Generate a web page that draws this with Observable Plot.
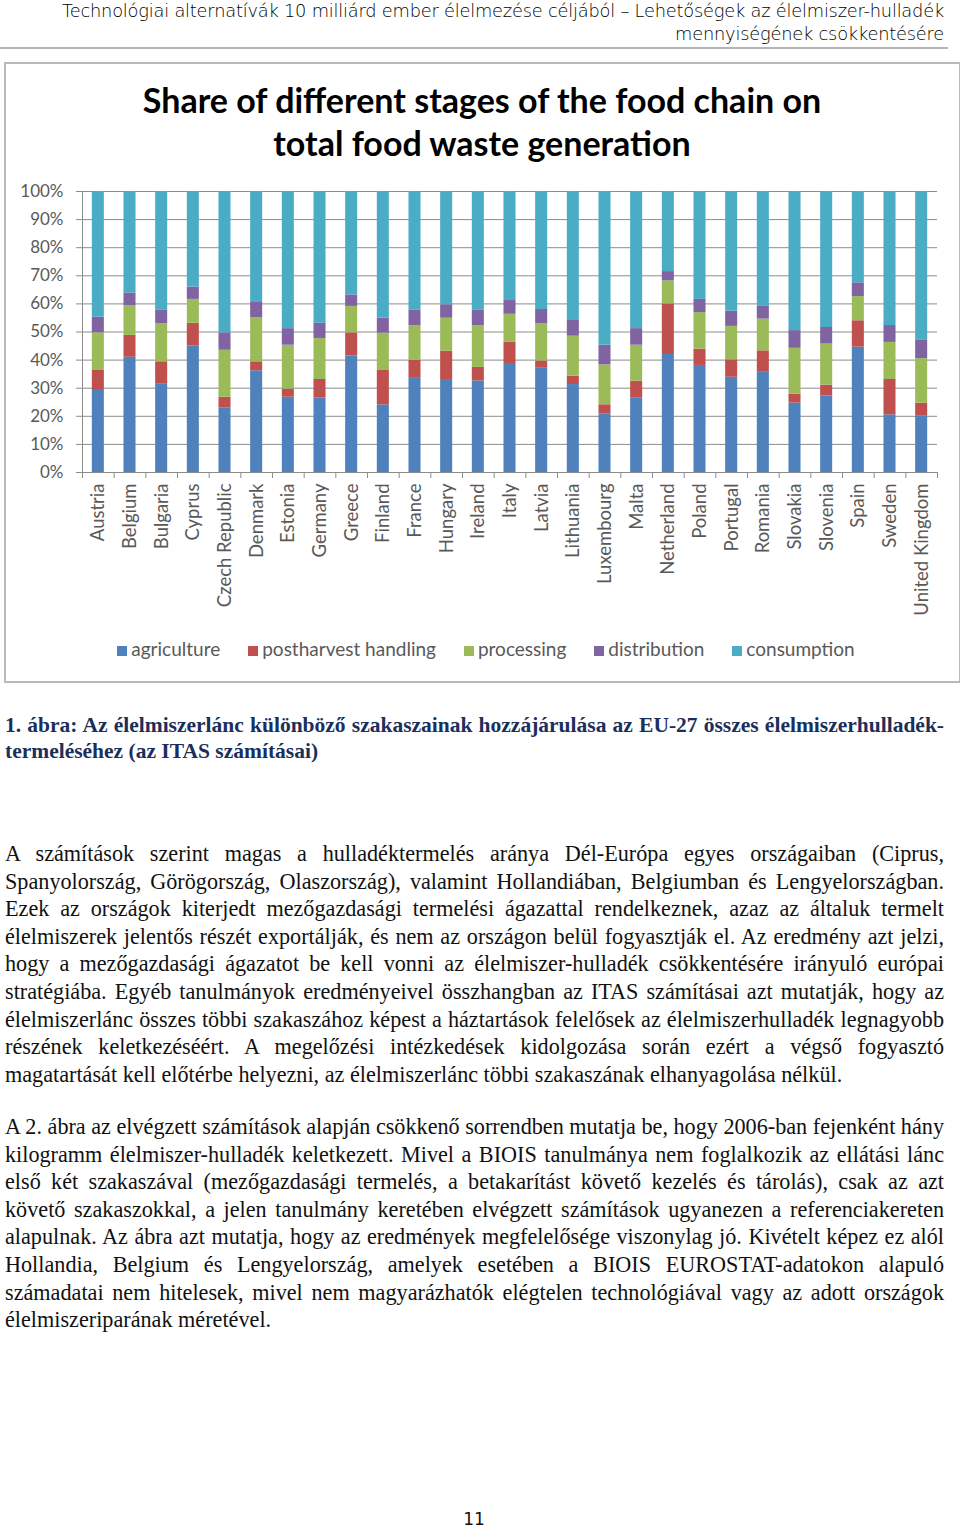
<!DOCTYPE html>
<html>
<head>
<meta charset="utf-8">
<script src="https://cdn.jsdelivr.net/npm/d3@7"></script>
<script src="https://cdn.jsdelivr.net/npm/@observablehq/plot@0.6"></script>
<style>
  html, body { margin: 0; padding: 0; background: #fff; }
  body { width: 960px; height: 1531px; position: relative; overflow: hidden; }
  .hdr { position: absolute; right: 16px; font-family: "DejaVu Sans", sans-serif; font-size: 17.8px; color: #000; font-weight: 300; letter-spacing: -0.2px; }
  .hline { position: absolute; left: 0; top: 47px; width: 948px; height: 2px; background: #b5b5b5; }
  .frame { position: absolute; left: 4px; top: 62px; width: 953px; height: 617px; border: 2px solid #b9b9b9; }
  .title { position: absolute; left: 0; width: 964px; text-align: center; font-family: Lato, sans-serif; font-weight: bold; font-size: 34px; color: #000; }
  #chart { position: absolute; left: 0; top: 170px; }
  .legend { position: absolute; top: 637px; left: 0; width: 972px; display: flex; justify-content: center; gap: 28px; font-family: Lato, sans-serif; font-size: 19px; color: #595959; }
  .legend span.sw { display: inline-block; width: 10px; height: 10px; margin-right: 4px; vertical-align: 0px; }
  .cap { position: absolute; left: 5px; width: 939px; font-family: "Liberation Serif", serif; font-weight: bold; font-size: 21.5px; color: #1b2f5c; line-height: 26px; }
  .txt { position: absolute; left: 5px; width: 939px; font-family: "Liberation Serif", serif; font-size: 22.2px; color: #111; line-height: 27.6px; }
  .j { text-align: justify; text-align-last: justify; height: 27.6px; }
  .cap .j { height: 26px; }
  .l { text-align: left; height: 27.6px; }
  .pg { position: absolute; top: 1509px; left: 0; width: 948px; text-align: center; font-family: "DejaVu Sans", sans-serif; font-size: 17px; color: #111; }
</style>
</head>
<body>
<div class="hdr" style="top:0px">Technológiai alternatívák 10 milliárd ember élelmezése céljából – Lehetőségek az élelmiszer-hulladék</div>
<div class="hdr" style="top:23px">mennyiségének csökkentésére</div>
<div class="hline"></div>
<div class="frame"></div>
<div class="title" style="top:79px">Share of different stages of the food chain on</div>
<div class="title" style="top:122px">total food waste generation</div>
<div id="chart"></div>
<div class="legend" id="legend"></div>

<div class="cap" style="top:712px">
  <div class="j">1. ábra: Az élelmiszerlánc különböző szakaszainak hozzájárulása az EU-27 összes élelmiszerhulladék-</div>
  <div>termeléséhez (az ITAS számításai)</div>
</div>

<div class="txt" style="top:840px">
  <div class="j">A számítások szerint magas a hulladéktermelés aránya Dél-Európa egyes országaiban (Ciprus,</div>
  <div class="j">Spanyolország, Görögország, Olaszország), valamint Hollandiában, Belgiumban és Lengyelországban.</div>
  <div class="j">Ezek az országok kiterjedt mezőgazdasági termelési ágazattal rendelkeznek, azaz az általuk termelt</div>
  <div class="j">élelmiszerek jelentős részét exportálják, és nem az országon belül fogyasztják el. Az eredmény azt jelzi,</div>
  <div class="j">hogy a mezőgazdasági ágazatot be kell vonni az élelmiszer-hulladék csökkentésére irányuló európai</div>
  <div class="j">stratégiába. Egyéb tanulmányok eredményeivel összhangban az ITAS számításai azt mutatják, hogy az</div>
  <div class="j">élelmiszerlánc összes többi szakaszához képest a háztartások felelősek az élelmiszerhulladék legnagyobb</div>
  <div class="j">részének keletkezéséért. A megelőzési intézkedések kidolgozása során ezért a végső fogyasztó</div>
  <div class="l">magatartását kell előtérbe helyezni, az élelmiszerlánc többi szakaszának elhanyagolása nélkül.</div>
</div>

<div class="txt" style="top:1113px">
  <div class="j">A 2. ábra az elvégzett számítások alapján csökkenő sorrendben mutatja be, hogy 2006-ban fejenként hány</div>
  <div class="j">kilogramm élelmiszer-hulladék keletkezett. Mivel a BIOIS tanulmánya nem foglalkozik az ellátási lánc</div>
  <div class="j">első két szakaszával (mezőgazdasági termelés, a betakarítást követő kezelés és tárolás), csak az azt</div>
  <div class="j">követő szakaszokkal, a jelen tanulmány keretében elvégzett számítások ugyanezen a referenciakereten</div>
  <div class="j">alapulnak. Az ábra azt mutatja, hogy az eredmények megfelelősége viszonylag jó. Kivételt képez ez alól</div>
  <div class="j">Hollandia, Belgium és Lengyelország, amelyek esetében a BIOIS EUROSTAT-adatokon alapuló</div>
  <div class="j">számadatai nem hitelesek, mivel nem magyarázhatók elégtelen technológiával vagy az adott országok</div>
  <div class="l">élelmiszeriparának méretével.</div>
</div>

<div class="pg">11</div>

<script>
const countries = ["Austria","Belgium","Bulgaria","Cyprus","Czech Republic","Denmark","Estonia","Germany","Greece","Finland","France","Hungary","Ireland","Italy","Latvia","Lithuania","Luxembourg","Malta","Netherland","Poland","Portugal","Romania","Slovakia","Slovenia","Spain","Sweden","United Kingdom"];
const stages = ["agriculture","postharvest handling","processing","distribution","consumption"];
const stageColors = ["#4f81bd","#c0504d","#9bbb59","#8064a2","#4bacc6"];

const agriculture  = [29.2,41.0,31.4,45.0,22.9,36.2,26.8,26.5,41.5,24.1,33.5,33.1,32.6,38.8,37.1,31.3,20.9,26.6,42.0,38.1,33.9,35.9,24.7,27.2,44.6,20.5,20.2];
const postharvest  = [7.1,7.8,8.0,8.1,3.9,3.2,2.9,6.6,8.2,12.2,6.4,10.1,4.8,7.5,2.6,3.0,3.2,5.9,18.0,5.8,6.2,7.4,3.2,3.9,9.4,12.6,4.5];
const processing   = [13.4,10.6,13.5,8.5,16.7,15.6,15.6,14.6,9.4,13.3,12.3,11.7,14.8,10.0,13.2,14.2,14.2,12.8,8.2,13.0,11.9,11.3,16.3,14.6,8.6,13.2,15.8];
const distribution = [5.6,4.5,4.8,4.4,6.2,5.5,5.9,5.4,4.1,5.3,5.5,4.8,5.5,4.9,5.1,5.6,7.0,5.9,3.3,4.7,5.4,4.5,6.3,5.9,4.9,6.0,6.5];
const consumption  = [44.7,36.1,42.3,34.0,50.3,39.5,48.8,46.9,36.8,45.1,42.3,40.3,42.3,38.8,42.0,45.9,54.7,48.8,28.5,38.4,42.6,40.9,49.5,48.4,32.5,47.7,53.0];
const yTicks = [0,10,20,30,40,50,60,70,80,90,100];

const series = [agriculture, postharvest, processing, distribution, consumption];
const rows = [];
stages.forEach((s, i) => countries.forEach((c, j) => rows.push({country: c, stage: s, value: series[i][j]})));

const W = 960, H = 460, mL = 82, mR = 23, mT = 21, mB = 158;
const step = (W - mL - mR) / countries.length;
const inset = step * 0.31;
const font = "Lato, sans-serif";

const chart = Plot.plot({
  width: W, height: H,
  marginLeft: mL, marginRight: mR, marginTop: mT, marginBottom: mB,
  style: {fontFamily: font, fontSize: "17px", color: "#595959", background: "transparent"},
  x: {domain: countries, padding: 0, round: false, label: null},
  y: {domain: [0, 100], label: null},
  color: {domain: stages, range: stageColors},
  marks: [
    Plot.gridY(yTicks, {stroke: "#8c8c8c", strokeOpacity: 1, strokeWidth: 1}),
    Plot.axisY(yTicks, {tickFormat: d => d + "%", tickSize: 6, tickPadding: 13, stroke: "#8c8c8c", fill: "#595959", fontSize: 17, label: null}),
    Plot.ruleX([countries[0]], {dx: -step / 2, stroke: "#8c8c8c"}),
    Plot.barY(rows, {x: "country", y: "value", fill: "stage", order: stages, insetLeft: inset, insetRight: inset}),
    Plot.ruleY([0], {stroke: "#8c8c8c"}),
    Plot.axisX(countries, {tickSize: 6, text: null, dx: -step / 2, stroke: "#8c8c8c", label: null}),
    Plot.axisX([countries[countries.length - 1]], {tickSize: 6, text: null, dx: step / 2, stroke: "#8c8c8c", label: null}),
    Plot.axisX(countries, {tickSize: 0, tickPadding: 11, tickRotate: -90, fill: "#595959", fontSize: 18.5, label: null})
  ]
});
document.getElementById("chart").appendChild(chart);

const leg = document.getElementById("legend");
stages.forEach((s, i) => {
  const item = document.createElement("div");
  item.innerHTML = `<span class="sw" style="background:${stageColors[i]}"></span>${s}`;
  leg.appendChild(item);
});
</script>
</body>
</html>
